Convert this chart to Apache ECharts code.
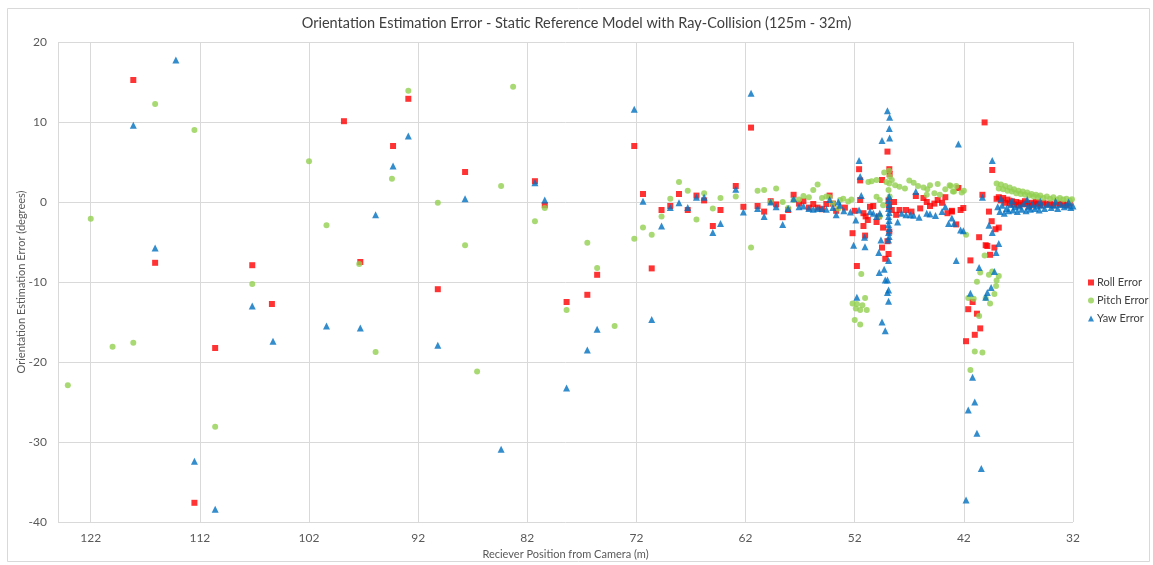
<!DOCTYPE html>
<html>
<head>
<meta charset="utf-8">
<script src="https://cdn.jsdelivr.net/npm/echarts@6/dist/echarts.min.js"></script>
<style>
html,body{margin:0;padding:0;background:#fff;}
#chart{width:1153px;height:565px;}
</style>
</head>
<body>
<div id="chart"></div>
<script>
const xTicks = [122, 112, 102, 92, 82, 72, 62, 52, 42, 32];
const yTicks = [-40, -30, -20, -10, 0, 10, 20];

const rollError = [
[118.1,15.25],[116.1,-7.6],[112.5,-37.6],[110.6,-18.25],[107.2,-7.9],[105.4,-12.75],[98.8,10.1],[97.3,-7.5],[94.3,7.0],[92.9,12.9],[90.2,-10.9],[87.7,3.75],[81.3,2.6],[80.4,-0.4],[78.4,-12.5],[76.5,-11.6],[75.6,-9.1],[72.2,7.0],[71.4,1.0],[70.6,-8.3],
[69.7,-1.0],[68.9,-0.5],[68.1,1.0],[67.3,-1.0],[66.5,0.8],[65.8,0.2],[65.0,-3.0],[64.3,-1.0],[62.9,2.0],[62.2,-0.6],[61.5,9.3],[60.9,-0.5],[60.3,-1.2],[59.7,0.1],[59.2,-0.3],[58.6,-1.9],[58.1,-1.0],[57.6,0.9],[57.1,-0.2],[56.7,0.1],[56.2,-0.7],[55.8,-0.25],[55.4,-0.7],[55.0,-0.9],[54.6,-0.25],[54.3,0.8],[54.0,-0.2],[53.7,-1.1],
[52.9,-0.7],[52.2,-3.9],[52.0,-1.1],[51.8,-8.0],[51.6,4.1],[51.5,2.7],[51.5,0.25],[51.2,-1.4],[51.0,-1.8],[50.8,-2.25],[51.2,-3.0],[51.05,-4.2],[50.6,-0.6],[50.3,-0.5],[50.0,-2.5],[49.8,-1.8],[49.5,2.75],[49.4,-3.2],[49.5,-5.7],[49.2,-7.1],[49.0,-4.9],[48.9,-6.5],[49.0,6.3],[48.83,4.1],[48.8,3.5],[48.9,0.2],[48.85,-0.6],[48.83,-3.7],[48.6,-1.0],[48.4,0.0],[48.2,-1.6],[47.9,-1.0],[47.3,-1.0],[46.8,-1.2],[46.4,0.75],[46.0,-0.8],[45.7,0.5],[45.4,0.0],[45.1,-0.5],[44.7,-0.2],[44.4,0.25],[44.0,-0.1],[43.7,0.6],[43.5,-1.4],[43.1,-1.2],
[42.7,-2.8],[42.5,1.75],[43.1,-1.1],[42.3,-1.0],[42.05,-0.75],[40.1,9.95],[39.4,4.0],[40.3,0.9],[39.7,-1.2],[39.45,-2.4],[38.8,-3.2],[39.1,-3.4],[40.6,-4.4],[40.0,-5.4],[39.85,-5.5],[39.2,-5.7],[39.6,-6.6],[41.4,-7.3],[41.2,-12.5],[41.6,-13.4],[40.8,-13.96],[40.5,-15.8],[41.0,-16.6],[41.8,-17.4],
[39.0,0.4],[38.8,0.6],[38.6,0.2],[38.4,0.5],[38.2,-0.1],[38.0,0.3],[37.8,-0.2],[37.6,0.1],[37.4,-0.3],[37.2,0.0],[37.0,-0.4],[36.8,-0.1],[36.6,-0.3],[36.4,0.1],[36.2,-0.2],[36.0,-0.5],[35.8,-0.1],[35.6,-0.3],[35.4,0.0],[35.2,-0.2],[35.0,-0.4],[34.7,-0.1],[34.4,-0.3],[34.1,-0.2],[33.8,-0.4],[33.5,-0.1],[33.2,-0.3],[32.9,-0.2],[32.6,-0.4],[32.3,-0.2]
];

const pitchError = [
[124.1,-22.9],[122.0,-2.1],[120.0,-18.1],[118.1,-17.6],[116.1,12.25],[112.5,9.0],[110.6,-28.1],[107.2,-10.25],[102.0,5.1],[100.4,-2.9],[97.4,-7.75],[95.9,-18.75],[94.4,2.9],[92.9,13.9],[90.2,-0.1],[87.7,-5.4],[86.6,-21.2],[84.4,2.0],[83.3,14.4],[81.3,-2.4],[80.4,-0.75],[78.4,-13.5],[76.5,-5.1],[75.6,-8.25],[74.0,-15.5],[72.2,-4.6],[71.4,-3.2],[70.6,-4.1],
[69.7,-1.8],[68.9,0.4],[68.1,2.5],[67.3,1.4],[66.5,-2.2],[65.8,1.1],[65.0,-0.8],[64.3,0.5],[62.9,0.7],[61.5,-5.7],[60.9,1.4],[60.3,1.5],[59.7,0.0],[59.2,1.7],[58.6,0.0],[58.1,-0.75],[57.6,0.25],[57.1,0.3],[56.7,0.75],[56.2,0.6],[55.8,1.5],[55.4,2.2],[55.0,0.5],[54.6,0.7],[54.3,0.6],[54.0,-0.2],[53.5,-0.8],
[53.35,0.25],[53.05,0.4],[52.6,0.05],[52.3,0.3],[51.4,-9.0],[52.2,-12.7],[51.9,-13.3],[51.8,-12.75],[51.5,-13.5],[51.3,-12.9],[51.05,-12.0],[50.9,-13.5],[52.0,-14.75],[51.5,-15.3],[50.75,2.5],[50.45,2.6],[50.0,2.75],[49.3,3.7],[49.1,2.5],[48.8,3.2],[48.6,2.75],[48.83,2.3],[48.9,1.5],[48.8,0.7],[48.85,3.9],[50.0,0.67],[49.7,0.25],[49.4,-0.4],[49.7,-1.8],[48.3,2.1],[47.9,1.9],[47.4,1.7],[47.0,2.7],[46.6,2.4],[46.2,2.0],[45.7,1.8],[45.35,1.6],[45.1,2.1],[44.4,2.25],[44.2,0.9],[44.7,1.1],[45.4,0.9],[43.7,1.6],[43.2,2.0],[42.9,1.3],
[43.3,2.1],[42.7,2.0],[43.0,1.3],[42.2,1.2],[42.0,1.4],[41.8,-4.1],[40.1,-6.7],[40.5,-8.8],[39.4,-8.7],[39.7,-9.1],[38.8,-9.25],[40.8,-9.96],[39.0,-9.8],[39.05,-10.5],[39.2,-11.5],[41.6,-12.0],[41.1,-12.1],[40.0,-12.0],[39.6,-12.7],[40.6,-14.25],[41.0,-18.7],[40.3,-18.8],[41.4,-21.0],
[39.0,2.3],[38.8,1.7],[38.6,2.2],[38.4,1.6],[38.2,2.0],[38.0,1.4],[37.8,1.8],[37.6,1.3],[37.4,1.6],[37.2,1.1],[37.0,1.4],[36.8,1.0],[36.6,1.3],[36.4,0.9],[36.2,1.2],[36.0,0.8],[35.8,1.0],[35.6,0.7],[35.4,0.9],[35.2,0.6],[35.0,0.8],[34.7,0.5],[34.4,0.7],[34.1,0.4],[33.8,0.6],[33.5,0.3],[33.2,0.5],[32.9,0.3],[32.6,0.4],[32.3,0.2],[32.1,0.35]
];

const yawError = [
[114.2,17.75],[118.1,9.6],[116.1,-5.75],[112.5,-32.4],[110.6,-38.4],[107.2,-13.0],[105.3,-17.4],[100.4,-15.5],[97.3,-15.75],[95.9,-1.6],[94.3,4.5],[92.9,8.25],[90.2,-17.9],[87.7,0.4],[84.4,-30.9],[81.3,2.4],[80.4,0.25],[78.4,-23.25],[76.5,-18.5],[75.6,-15.9],[72.2,11.6],[71.4,0.1],[70.6,-14.7],
[69.7,-3.0],[68.9,-0.7],[68.1,-0.1],[67.3,-0.7],[66.5,0.6],[65.8,0.6],[65.0,-3.8],[64.3,-2.7],[62.9,1.6],[62.2,-1.25],[61.5,13.6],[60.9,-0.8],[60.3,-1.8],[59.7,0.0],[59.2,-0.6],[58.6,-2.8],[58.1,-0.8],[57.6,0.4],[57.1,-0.6],[56.7,-0.5],[56.2,-0.8],[55.8,-0.9],[55.4,-0.8],[55.0,-0.8],[54.6,-0.9],[54.3,0.3],[54.0,-0.7],[53.7,-1.6],[53.5,0.0],
[53.35,-0.4],[53.0,-1.1],[52.4,-1.25],[51.9,-2.25],[52.1,-5.4],[51.8,-11.9],[51.6,5.2],[51.5,3.2],[51.4,0.8],[51.6,-1.0],[51.1,-4.4],[51.06,-5.6],[50.6,-1.2],[50.3,-1.4],[50.0,-1.8],[49.7,-1.4],[49.6,-4.75],[49.8,-6.3],[49.75,-8.8],[49.3,-8.4],[48.9,-7.3],[49.2,-9.75],[49.0,-9.75],[48.9,-11.0],[49.0,-11.3],[48.9,-12.4],[49.5,-15.0],[49.2,-16.1],[49.5,7.7],[49.0,11.4],[48.8,10.6],[48.83,9.2],[48.8,8.0],[48.85,0.7],[48.9,0.2],[48.85,-0.3],[48.9,-0.8],[48.85,-1.3],[48.9,-1.8],[48.85,-2.3],[48.9,-2.8],[48.85,-3.3],[48.9,-3.8],[48.85,-4.3],[48.9,-4.75],[48.07,-2.5],[47.7,-1.4],[47.3,-1.6],[46.9,-1.6],[46.6,-1.65],[46.1,-1.9],[46.4,1.3],[45.4,-1.4],[45.1,-1.5],[44.6,-1.7],[44.0,-1.2],[43.7,-0.6],[43.4,-2.7],[42.5,7.25],
[42.7,-7.3],[43.1,-2.0],[42.9,-2.7],[42.3,-3.5],[42.05,-3.6],[39.4,5.2],[40.3,0.6],[39.7,-2.9],[39.4,-3.8],[38.8,-5.2],[39.05,-6.3],[40.6,-8.2],[39.2,-8.7],[39.5,-10.7],[39.85,-11.3],[41.4,-11.4],[40.0,-11.9],[41.2,-21.9],[41.0,-25.0],[41.6,-26.0],[40.8,-28.9],[40.4,-33.3],[41.8,-37.25],
[38.9,-0.6],[38.7,-1.2],[38.5,-0.4],[38.3,-1.4],[38.1,-0.8],[37.9,-1.1],[37.7,-0.3],[37.5,-1.0],[37.3,-0.6],[37.1,-1.2],[36.9,-0.5],[36.7,-0.9],[36.5,-0.2],[36.3,-1.1],[36.1,-0.6],[35.9,-0.9],[35.7,-0.3],[35.5,-0.8],[35.3,-0.5],[35.1,-1.0],[34.9,-0.4],[34.6,-0.8],[34.3,-0.3],[34.0,-0.7],[33.7,-0.4],[33.4,-0.8],[33.1,-0.3],[32.8,-0.6],[32.5,-0.4],[32.2,-0.7],[32.0,-0.5],
[38.6,0.4],[37.6,0.2],[36.2,0.3],[35.0,0.1],[33.6,0.1],[32.4,0.0]
];

const chart = echarts.init(document.getElementById('chart'), null, {renderer: 'canvas'});
const FONT = 'Lato';
chart.setOption({
  animation: false,
  backgroundColor: '#fff',
  textStyle: {fontFamily: FONT},
  graphic: [{
    type: 'rect', left: 5, top: 6, z: -10, silent: true,
    shape: {width: 1142, height: 553},
    style: {fill: 'none', stroke: '#d9d9d9', lineWidth: 1}
  }],
  title: {
    text: 'Orientation Estimation Error - Static Reference Model with Ray-Collision (125m - 32m)',
    left: 'center', top: 11,
    textStyle: {fontFamily: FONT, fontSize: 14.5, fontWeight: 'normal', color: '#404040'}
  },
  legend: {
    orient: 'vertical', left: 1083, top: 272, itemWidth: 6, itemHeight: 6, itemGap: 7,
    textStyle: {fontFamily: FONT, fontSize: 11, color: '#404040', padding: [0,0,0,-2]},
    data: [
      {name: 'Roll Error', icon: 'rect'},
      {name: 'Pitch Error', icon: 'circle'},
      {name: 'Yaw Error', icon: 'triangle'}
    ]
  },
  grid: {left: 58, right: 80, top: 42, bottom: 43, containLabel: false, outerBoundsMode: 'none'},
  xAxis: {
    type: 'value', inverse: true, min: 32, max: 125, interval: 10,
    name: 'Reciever Position from Camera (m)', nameLocation: 'middle', nameGap: 27,
    nameMoveOverlap: false,
    nameTextStyle: {fontFamily: FONT, fontSize: 11, color: '#595959'},
    axisLine: {show: false}, axisTick: {show: false},
    axisLabel: {fontFamily: FONT, fontSize: 12, color: '#595959', margin: 10,
      formatter: v => (xTicks.indexOf(v) >= 0 ? String(v) : '')},
    splitLine: {show: true, lineStyle: {color: '#d9d9d9', width: 1}}
  },
  yAxis: {
    type: 'value', min: yTicks[0], max: yTicks[yTicks.length-1], interval: 10,
    name: 'Orientation Estimation Error (degrees)', nameLocation: 'middle', nameGap: 31, nameRotate: 90,
    nameMoveOverlap: false,
    nameTextStyle: {fontFamily: FONT, fontSize: 11, color: '#595959'},
    axisLine: {show: false}, axisTick: {show: false},
    axisLabel: {fontFamily: FONT, fontSize: 12, color: '#595959', margin: 11},
    splitLine: {show: true, lineStyle: {color: '#d9d9d9', width: 1}}
  },
  series: [
    {name: 'Roll Error', type: 'scatter', symbol: 'rect', symbolSize: 6, data: rollError,
     itemStyle: {color: '#FF0000'}},
    {name: 'Pitch Error', type: 'scatter', symbol: 'circle', symbolSize: 6, data: pitchError,
     itemStyle: {color: '#92D050'}},
    {name: 'Yaw Error', type: 'scatter', symbol: 'triangle', symbolSize: 7, data: yawError,
     itemStyle: {color: '#0070C0'}}
  ]
});
</script>
</body>
</html>
